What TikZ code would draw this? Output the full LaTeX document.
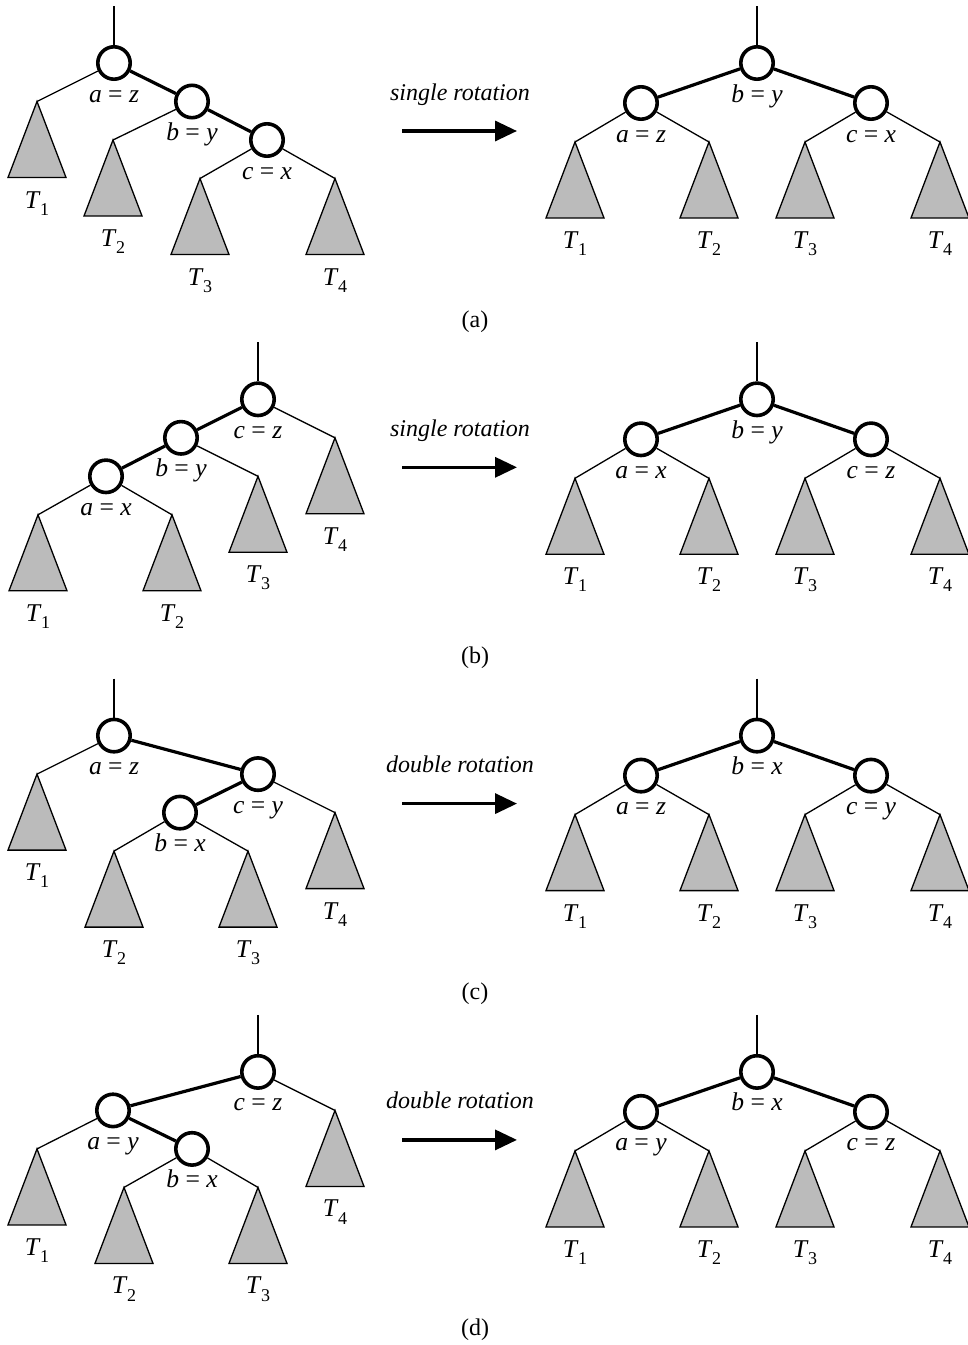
\documentclass[tikz,border=0pt]{standalone}
\usepackage{fontspec}
\setmainfont{Liberation Serif}
\usepackage{tikz}
\usetikzlibrary{
  arrows.meta,
  calc
}
\definecolor{TreeFill}{HTML}{BBBBBB}

% a keyed tree node with its label under it
\newcommand{\avlnode}[4]{%
  \node[avl] (#1) at #2 {};
  \path (#1) ++(0,39) node[keylab] (#1k) {\textit{#3} = \textit{#4}};
}
% a shaded subtree, named by its apex
\newcommand{\subtree}[3]{%
  \coordinate (#1) at #2;
  \filldraw[subtri] (#1) -- ++(-29,76) -- ++(58,0) -- cycle;
  \path (#1) ++(0,106.5) node[tname] (#1n)
    {\textit{T}\kern-0.02em\raisebox{-0.28em}{\fontsize{9}{10}\selectfont #3}};
}

\begin{document}
\begin{tikzpicture}[x=0.5pt, y=-0.5pt,
    font=\fontsize{12}{14}\selectfont,
    avl/.style={circle, draw, line width=1.8pt, fill=white,
      minimum size=16.2pt, inner sep=0pt},
    keylab/.style={anchor=base, inner sep=0pt, font=\fontsize{12.8}{14}\selectfont},
    tname/.style={anchor=base, inner sep=0pt, font=\fontsize{12.8}{14}\selectfont},
    subtri/.style={fill=TreeFill, draw, line width=0.65pt},
    heavy/.style={line width=1.6pt},
    light/.style={line width=0.65pt},
    rotarrow/.style={line width=1.7pt, -{Triangle[length=11pt,width=10pt]}},
    rotname/.style={anchor=base, font=\fontsize{12}{14}\selectfont\itshape},
    capname/.style={anchor=base}]
  \useasboundingbox (0,0) rectangle (968,1345);

  % (a) left
  \coordinate (Atop) at (114,6);
  \avlnode{Aa}{(114,63)}{a}{z}
  \avlnode{Ab}{(192,101.5)}{b}{y}
  \avlnode{Ac}{(267,140)}{c}{x}
  \subtree{AT1}{(37,101.5)}{1}
  \subtree{AT2}{(113,140)}{2}
  \subtree{AT3}{(200,178.5)}{3}
  \subtree{AT4}{(335,178.5)}{4}
  \draw[light] (Atop) -- (Aa);
  \draw[light] (Aa) -- (AT1);
  \draw[heavy] (Aa) -- (Ab);
  \draw[light] (Ab) -- (AT2);
  \draw[heavy] (Ab) -- (Ac);
  \draw[light] (Ac) -- (AT3) (Ac) -- (AT4);

  % (b) left
  \begin{scope}[shift={(0,336.3)}]
    \coordinate (Btop) at (258,6);
    \avlnode{Bc}{(258,63)}{c}{z}
    \avlnode{Bb}{(181,101.5)}{b}{y}
    \avlnode{Ba}{(106,140)}{a}{x}
    \subtree{BT4}{(335,101.5)}{4}
    \subtree{BT3}{(258,140)}{3}
    \subtree{BT1}{(38,178.5)}{1}
    \subtree{BT2}{(172,178.5)}{2}
    \draw[light] (Btop) -- (Bc);
    \draw[light] (Bc) -- (BT4);
    \draw[heavy] (Bc) -- (Bb);
    \draw[light] (Bb) -- (BT3);
    \draw[heavy] (Bb) -- (Ba);
    \draw[light] (Ba) -- (BT1) (Ba) -- (BT2);
  \end{scope}

  % (c) left
  \begin{scope}[shift={(0,672.6)}]
    \coordinate (Ctop) at (114,6);
    \avlnode{Ca}{(114,63)}{a}{z}
    \avlnode{Cc}{(258,101.5)}{c}{y}
    \avlnode{Cb}{(180,140)}{b}{x}
    \subtree{CT1}{(37,101.5)}{1}
    \subtree{CT4}{(335,140)}{4}
    \subtree{CT2}{(114,178.5)}{2}
    \subtree{CT3}{(248,178.5)}{3}
    \draw[light] (Ctop) -- (Ca);
    \draw[light] (Ca) -- (CT1);
    \draw[heavy] (Ca) -- (Cc);
    \draw[light] (Cc) -- (CT4);
    \draw[heavy] (Cc) -- (Cb);
    \draw[light] (Cb) -- (CT2) (Cb) -- (CT3);
  \end{scope}

  % (d) left
  \begin{scope}[shift={(0,1008.9)}]
    \coordinate (Dtop) at (258,6);
    \avlnode{Dc}{(258,63)}{c}{z}
    \avlnode{Da}{(113,101.5)}{a}{y}
    \avlnode{Db}{(192,140)}{b}{x}
    \subtree{DT4}{(335,101.5)}{4}
    \subtree{DT1}{(37,140)}{1}
    \subtree{DT2}{(124,178.5)}{2}
    \subtree{DT3}{(258,178.5)}{3}
    \draw[light] (Dtop) -- (Dc);
    \draw[light] (Dc) -- (DT4);
    \draw[heavy] (Dc) -- (Da);
    \draw[light] (Da) -- (DT1);
    \draw[heavy] (Da) -- (Db);
    \draw[light] (Db) -- (DT2) (Db) -- (DT3);
  \end{scope}

  % balanced results, arrows and captions
  \foreach \k/\ka/\kb/\kc/\rotkind/\panel in
    {0/z/y/x/single/a, 1/x/y/z/single/b, 2/z/x/y/double/c, 3/y/x/z/double/d}{
    \begin{scope}[shift={(0,{336.3*\k})}]
      \coordinate (R\k top) at (757,6);
      \avlnode{R\k b}{(757,63)}{b}{\kb}
      \avlnode{R\k a}{(641,103)}{a}{\ka}
      \avlnode{R\k c}{(871,103)}{c}{\kc}
      \subtree{R\k T1}{(575,142)}{1}
      \subtree{R\k T2}{(709,142)}{2}
      \subtree{R\k T3}{(805,142)}{3}
      \subtree{R\k T4}{(940,142)}{4}
      \draw[light] (R\k top) -- (R\k b);
      \draw[heavy] (R\k b) -- (R\k a);
      \draw[heavy] (R\k b) -- (R\k c);
      \draw[light] (R\k a) -- (R\k T1) (R\k a) -- (R\k T2);
      \draw[light] (R\k c) -- (R\k T3) (R\k c) -- (R\k T4);
      \node[rotname] (R\k rot) at (460,100) {\rotkind\ rotation};
      \coordinate (R\k from) at (402,131);
      \coordinate (R\k to) at (517,131);
      \draw[rotarrow] (R\k from) -- (R\k to);
      \node[capname] (R\k cap) at (475,327) {(\panel)};
    \end{scope}
  }
\end{tikzpicture}
\end{document}
